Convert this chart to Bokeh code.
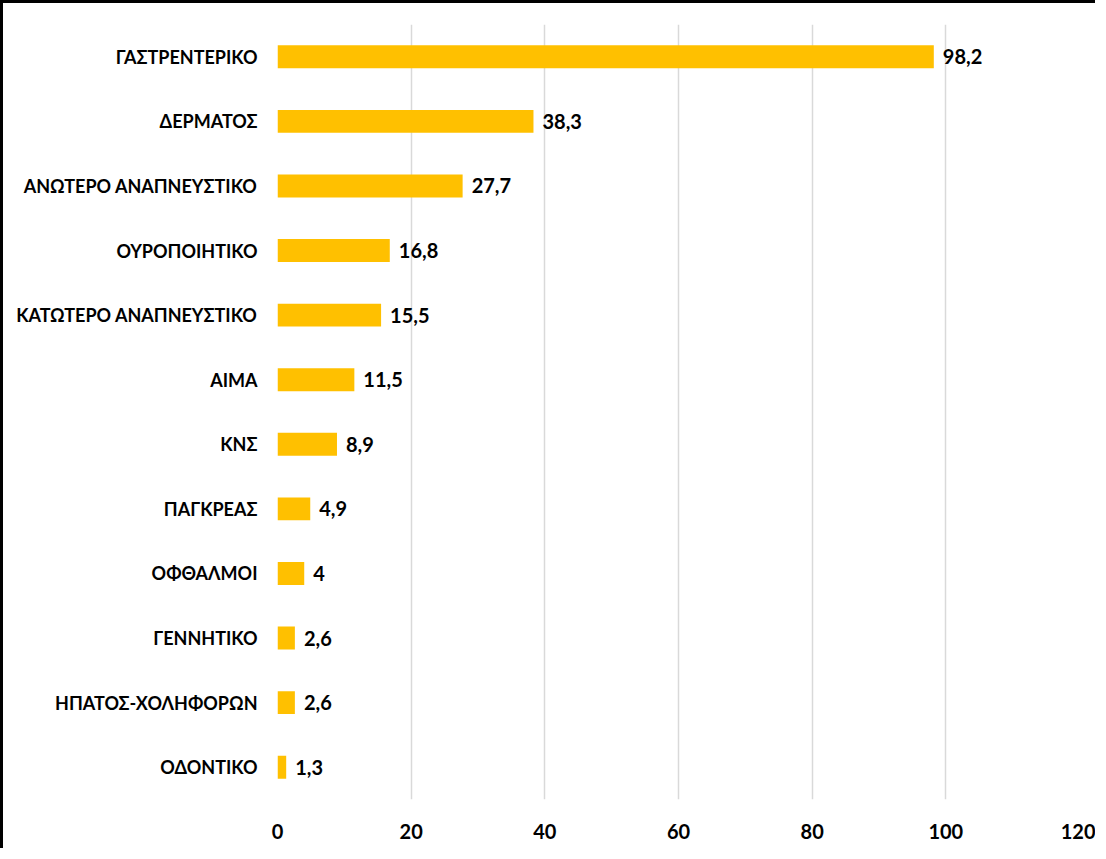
from bokeh.plotting import figure
from bokeh.models import ColumnDataSource, FactorRange, Range1d, FixedTicker
from bokeh.core.properties import value
from bokeh.embed import file_html
from bokeh.resources import INLINE

categories = ["ΓΑΣΤΡΕΝΤΕΡΙΚΟ", "ΔΕΡΜΑΤΟΣ", "ΑΝΩΤΕΡΟ ΑΝΑΠΝΕΥΣΤΙΚΟ", "ΟΥΡΟΠΟΙΗΤΙΚΟ",
              "ΚΑΤΩΤΕΡΟ ΑΝΑΠΝΕΥΣΤΙΚΟ", "ΑΙΜΑ", "ΚΝΣ", "ΠΑΓΚΡΕΑΣ", "ΟΦΘΑΛΜΟΙ",
              "ΓΕΝΝΗΤΙΚΟ", "ΗΠΑΤΟΣ-ΧΟΛΗΦΟΡΩΝ", "ΟΔΟΝΤΙΚΟ"]
values = [98.2, 38.3, 27.7, 16.8, 15.5, 11.5, 8.9, 4.9, 4, 2.6, 2.6, 1.3]
labels = ["98,2", "38,3", "27,7", "16,8", "15,5", "11,5", "8,9", "4,9", "4", "2,6", "2,6", "1,3"]
x_ticks = [0, 20, 40, 60, 80, 100, 120]

FONT = "Lato"

src = ColumnDataSource(dict(cat=categories, val=values, lab=labels))

W, H = 1095, 848
frame_left, frame_right = 274, 1076
frame_top, frame_bottom = 21, 796

p = figure(width=W, height=H, output_backend="svg", toolbar_location=None,
           y_range=FactorRange(factors=categories[::-1], range_padding=0),
           x_range=Range1d(0, 120),
           min_border_left=frame_left, min_border_right=W - frame_right,
           min_border_top=frame_top, min_border_bottom=H - frame_bottom)
p.styles = {"border-top": "3px solid black", "border-left": "3px solid black"}

p.hbar(y="cat", right="val", left=0, height=0.355, source=src,
       fill_color="#FFC000", line_color=None)
p.text(x="val", y="cat", text="lab", source=src, x_offset=9,
       text_baseline="middle", text_align="left",
       text_font=value(FONT), text_font_style="bold", text_font_size="20px",
       text_color="#000000")

p.outline_line_color = None
p.ygrid.grid_line_color = None
p.xgrid.grid_line_color = "#d9d9d9"
p.xgrid.grid_line_width = 1.5
p.xaxis.ticker = FixedTicker(ticks=x_ticks)

for ax in (p.xaxis[0], p.yaxis[0]):
    ax.axis_line_color = None
    ax.major_tick_line_color = None
    ax.minor_tick_line_color = None
    ax.major_label_text_font = FONT
    ax.major_label_text_font_style = "bold"
    ax.major_label_text_color = "#000000"

p.xaxis.major_label_text_font_size = "20px"
p.xaxis.major_label_standoff = 18
p.yaxis.major_label_text_font_size = "18px"
p.yaxis.major_label_standoff = 14

open("out.html", "w").write(file_html(p, INLINE))
